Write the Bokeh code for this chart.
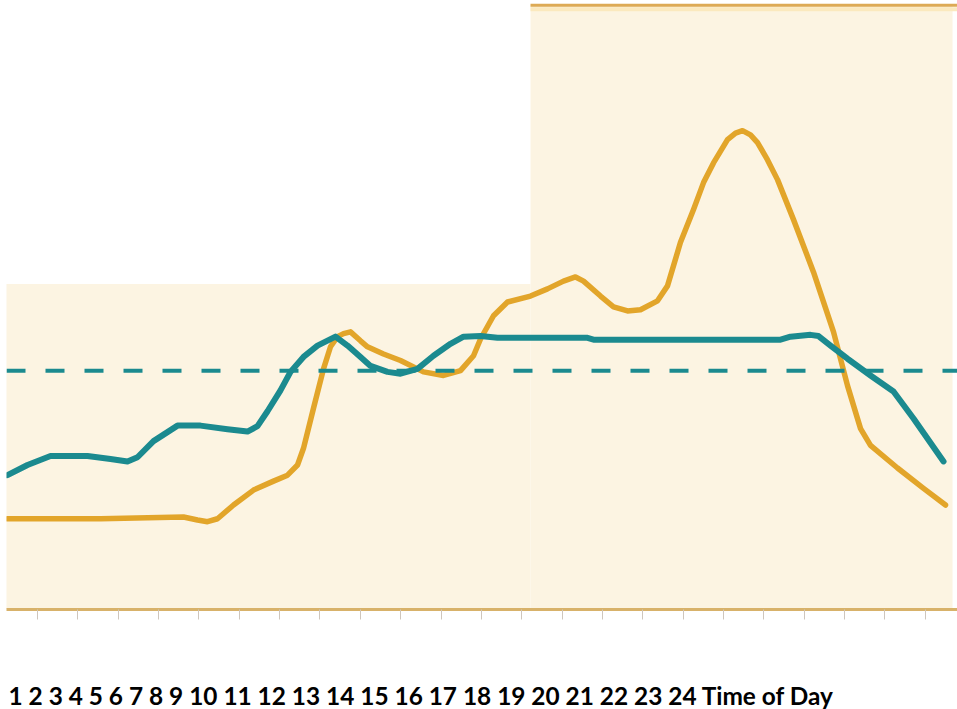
from bokeh.plotting import figure
from bokeh.models import Range1d, FixedTicker, Span, Title
from bokeh.embed import file_html
from bokeh.resources import INLINE

# ---- data (hour of day, relative units) ----
teal_hours = [0.2565, 0.752, 1.322, 2.239, 2.809, 3.230, 3.478, 3.875, 4.470, 5.040, 5.709,
              6.204, 6.452, 6.700, 7.022, 7.270, 7.592, 7.939, 8.385, 8.683, 9.005, 9.253,
              9.674, 9.996, 10.417, 10.814, 11.235, 11.558, 11.979, 12.400, 14.631, 14.780,
              19.414, 19.662, 20.157, 20.356, 20.653, 21.074, 21.644, 22.214, 22.710, 23.454]
teal_values = [22.5, 24.2, 25.7, 25.7, 25.2, 24.8, 25.5, 28.2, 30.8, 30.8, 30.2,
               29.8, 30.7, 33.2, 36.7, 39.8, 42.3, 44.2, 45.7, 44.2, 42.3, 40.8,
               39.8, 39.5, 40.3, 42.5, 44.5, 45.7, 45.8, 45.5, 45.5, 45.2,
               45.2, 45.7, 46.0, 45.8, 44.2, 42.0, 39.2, 36.5, 32.0, 24.8]

orange_hours = [0.2565, 2.561, 4.618, 4.965, 5.213, 5.461, 5.858, 6.353, 6.849, 7.196, 7.444,
                7.592, 7.840, 8.088, 8.261, 8.435, 8.584, 8.757, 9.005, 9.178, 9.575, 9.996,
                10.566, 11.062, 11.483, 11.806, 11.979, 12.301, 12.648, 13.218, 13.639, 14.036,
                14.333, 14.532, 14.953, 15.275, 15.622, 15.944, 16.366, 16.613, 16.935, 17.258,
                17.506, 17.753, 18.100, 18.299, 18.472, 18.670, 18.844, 19.092, 19.339, 19.736,
                20.232, 20.727, 21.074, 21.397, 21.644, 22.313, 22.958, 23.503]
orange_values = [15.2, 15.2, 15.5, 15.0, 14.7, 15.2, 17.5, 20.0, 21.5, 22.5, 24.2,
                 27.0, 33.7, 40.3, 44.0, 45.7, 46.2, 46.5, 45.0, 44.0, 42.8, 41.7,
                 39.8, 39.2, 40.0, 42.5, 45.3, 49.2, 51.5, 52.5, 53.7, 55.0,
                 55.7, 55.0, 52.5, 50.7, 50.0, 50.2, 51.7, 54.2, 61.5, 67.0,
                 71.5, 74.8, 78.7, 79.8, 80.2, 79.5, 78.2, 75.3, 72.0, 65.3,
                 56.5, 46.5, 37.5, 30.3, 27.5, 23.7, 20.3, 17.5]

average_value = 40.0
hour_ticks = list(range(1, 25))
label_text = " ".join(str(h) for h in hour_ticks) + " Time of Day"

# shaded periods: (start hour, end hour, top value)
period_left = [0.20, 13.218]
period_right = [13.218, 23.677]
period_top = [54.5, 101.2]

CREAM = "#FCF4E2"
ORANGE = "#E2A52A"
TEAL = "#1B8A8F"

p = figure(width=957, height=709, output_backend="svg", toolbar_location=None,
           x_range=Range1d(0.2317, 23.800), y_range=Range1d(0, 102),
           y_axis_location=None, min_border_left=6, min_border_right=0,
           min_border_top=0, min_border_bottom=97)
p.outline_line_color = None
p.xgrid.visible = False
p.ygrid.visible = False
p.background_fill_color = "white"
p.border_fill_color = "white"

p.quad(left=period_left, right=period_right, bottom=[0, 0], top=period_top,
       fill_color=CREAM, line_color=None)
# top border of the peak period
p.segment(x0=[period_left[1]], x1=[23.9], y0=[100.55], y1=[100.55],
          line_color="#FBE9BE", line_width=4)
p.segment(x0=[period_left[1]], x1=[23.9], y0=[101.2], y1=[101.2],
          line_color="#DDAA55", line_width=3)

p.add_layout(Span(location=average_value, dimension="width", line_color=TEAL,
                  line_width=4, line_dash="19 20"))

p.line(orange_hours, orange_values, line_color=ORANGE, line_width=5.5,
       line_join="round", line_cap="round")
p.line(teal_hours, teal_values, line_color=TEAL, line_width=6,
       line_join="round", line_cap="round")

ax = p.xaxis[0]
ax.ticker = FixedTicker(ticks=hour_ticks)
ax.axis_line_color = "#D8B26A"
ax.axis_line_width = 3
ax.major_tick_in = 0
ax.major_tick_out = 10
ax.major_tick_line_color = "#CFC6BC"
ax.major_tick_line_width = 1
ax.minor_tick_line_color = None
# tick labels are blank; the hour numbers are written in the line below the axis
ax.major_label_overrides = {h: " " for h in hour_ticks}
ax.major_label_text_color = "white"
ax.major_label_text_font_size = "1px"
ax.major_label_standoff = 55

p.add_layout(Title(text=label_text, align="left", offset=2, standoff=0,
                   text_font="Lato", text_font_style="bold", text_font_size="24.4px",
                   text_color="black"), "below")

open("out.html", "w").write(file_html(p, INLINE))
